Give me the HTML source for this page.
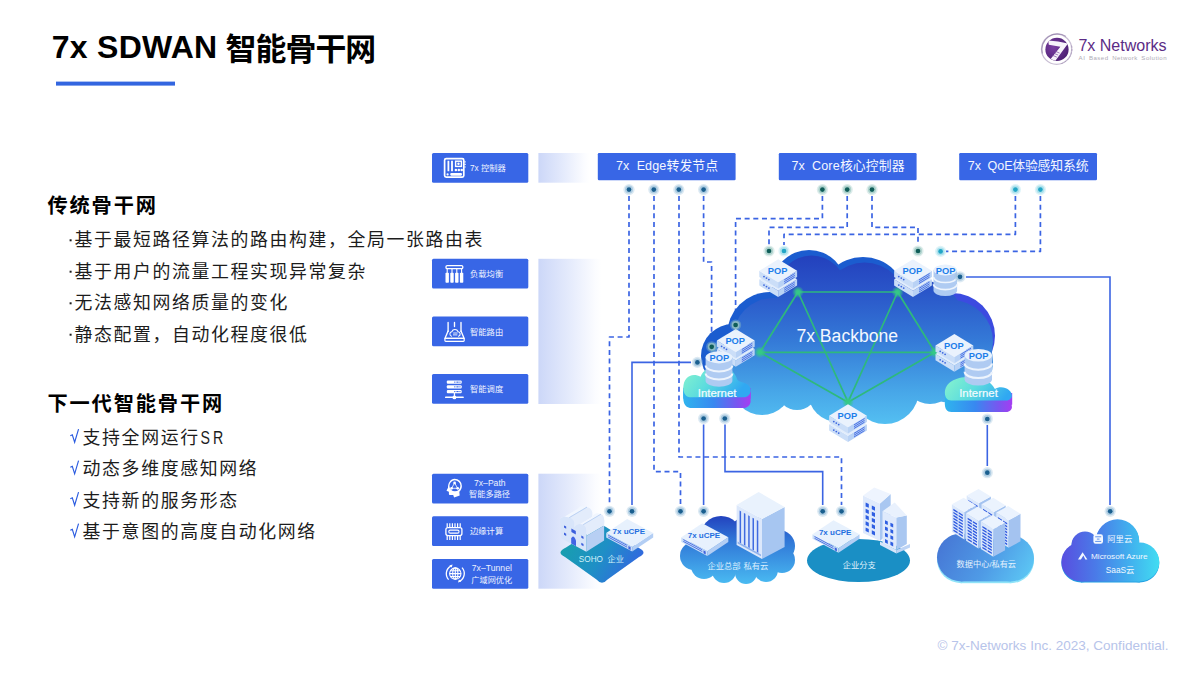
<!DOCTYPE html>
<html lang="zh-CN">
<head>
<meta charset="utf-8">
<title>7x SDWAN 智能骨干网</title>
<style>
html,body{margin:0;padding:0;background:#fff;}
body{width:1200px;height:675px;overflow:hidden;font-family:"Liberation Sans","Noto Sans CJK SC",sans-serif;}
#slide{position:relative;width:1200px;height:675px;overflow:hidden;background:#fff;}
#slide svg{position:absolute;left:0;top:0;display:block;}
svg text{font-family:"Liberation Sans","Noto Sans CJK SC",sans-serif;}
</style>
</head>
<body>
<div id="slide">
<svg width="1200" height="675" viewBox="0 0 1200 675">
<defs>
<linearGradient id="colg" x1="0" y1="0" x2="1" y2="0"><stop offset="0" stop-color="#ccd7f8"/><stop offset="0.5" stop-color="#e5ebfc"/><stop offset="0.9" stop-color="#fbfcff"/><stop offset="1" stop-color="#ffffff"/></linearGradient>
<linearGradient id="cloudg" gradientUnits="userSpaceOnUse" x1="0" y1="255" x2="0" y2="425"><stop offset="0" stop-color="#2340bd"/><stop offset="0.22" stop-color="#2a56c9"/><stop offset="0.5" stop-color="#3479d7"/><stop offset="0.8" stop-color="#47a6e8"/><stop offset="1" stop-color="#54c0f2"/></linearGradient>
<radialGradient id="gglow"><stop offset="0" stop-color="#35c987" stop-opacity="1"/><stop offset="0.35" stop-color="#35c987" stop-opacity="0.9"/><stop offset="1" stop-color="#35c987" stop-opacity="0"/></radialGradient>
<linearGradient id="inetTop" gradientUnits="userSpaceOnUse" x1="8" y1="12" x2="50" y2="46"><stop offset="0" stop-color="#80f0d0"/><stop offset="0.45" stop-color="#5cdcde"/><stop offset="1" stop-color="#30a8f2"/></linearGradient>
<linearGradient id="inetSide" gradientUnits="userSpaceOnUse" x1="0" y1="0" x2="67.5" y2="0"><stop offset="0" stop-color="#2fb4ee"/><stop offset="0.45" stop-color="#3888f0"/><stop offset="0.8" stop-color="#7a55f0"/><stop offset="1" stop-color="#a63cf2"/></linearGradient>
<linearGradient id="sohog" x1="0" y1="0.3" x2="1" y2="0.7"><stop offset="0" stop-color="#17a0ac"/><stop offset="0.5" stop-color="#1f8fc6"/><stop offset="1" stop-color="#3463e2"/></linearGradient>
<linearGradient id="hqg" gradientUnits="userSpaceOnUse" x1="0" y1="515" x2="0" y2="583"><stop offset="0" stop-color="#2240bd"/><stop offset="0.35" stop-color="#2f74d6"/><stop offset="1" stop-color="#49b9f1"/></linearGradient>
<linearGradient id="dcg" gradientUnits="userSpaceOnUse" x1="945" y1="538" x2="1025" y2="584"><stop offset="0" stop-color="#4779d6"/><stop offset="0.55" stop-color="#4f9be6"/><stop offset="1" stop-color="#5cc6f4"/></linearGradient>
<linearGradient id="saasg" gradientUnits="userSpaceOnUse" x1="1062" y1="0" x2="1159" y2="0"><stop offset="0" stop-color="#584fe0"/><stop offset="0.35" stop-color="#4a7be8"/><stop offset="0.7" stop-color="#41b0ee"/><stop offset="1" stop-color="#42dcf2"/></linearGradient>
<radialGradient id="logog" cx="0.35" cy="0.4" r="0.75"><stop offset="0" stop-color="#7b3fa3"/><stop offset="1" stop-color="#481d6e"/></radialGradient>
<clipPath id="logoclip"><circle cx="1057" cy="49.4" r="11.6"/></clipPath>
</defs>
<g fill="#000"><text x="51.80" y="58.40" font-size="32.00" font-weight="700" textLength="165.36" lengthAdjust="spacing" xml:space="preserve">7x SDWAN</text></g>
<g fill="#000"><text x="225.6" y="59.6" font-size="30.9" font-weight="700" letter-spacing="-0.95">智能骨干网</text></g>
<rect x="56" y="81.6" width="119" height="4" fill="#3366e0"/>
<text x="937.5" y="650" font-size="12.2" fill="#b7c4ea" textLength="231" lengthAdjust="spacingAndGlyphs">© 7x-Networks Inc. 2023, Confidential.</text>
<g fill="#000"><text x="47.4" y="213.2" font-size="20.2" font-weight="700" letter-spacing="1.9">传统骨干网</text></g>
<g fill="#000"><text x="47.4" y="411.2" font-size="20.2" font-weight="700" letter-spacing="1.9">下一代智能骨干网</text></g>
<rect x="69.6" y="239.3" width="2" height="2" fill="#1c1c1c"/>
<g fill="#1c1c1c"><text x="74.4" y="246.13" font-size="17.9" letter-spacing="1.62">基于最短路径算法的路由构建，全局一张路由表</text></g>
<rect x="69.6" y="270.7" width="2" height="2" fill="#1c1c1c"/>
<g fill="#1c1c1c"><text x="74.4" y="277.53" font-size="17.9" letter-spacing="1.62">基于用户的流量工程实现异常复杂</text></g>
<rect x="69.6" y="302.3" width="2" height="2" fill="#1c1c1c"/>
<g fill="#1c1c1c"><text x="74.4" y="309.13" font-size="17.9" letter-spacing="1.62">无法感知网络质量的变化</text></g>
<rect x="69.6" y="333.7" width="2" height="2" fill="#1c1c1c"/>
<g fill="#1c1c1c"><text x="74.4" y="340.53" font-size="17.9" letter-spacing="1.62">静态配置，自动化程度很低</text></g>
<path d="M70.3 435.7 l2.0 -0.9 l2.35 7.4 l3.9 -13.1" fill="none" stroke="#2a5be0" stroke-width="1.15" stroke-linejoin="miter"/>
<g fill="#1c1c1c"><text x="82.6" y="443.73" font-size="17.9" letter-spacing="1.62">支持全网运行</text></g>
<g fill="#1c1c1c"><text transform="translate(200.6 443.5) scale(0.78 1)" font-size="18.2">S</text><text transform="translate(213.1 443.5) scale(0.78 1)" font-size="18.2">R</text></g>
<path d="M70.3 467.3 l2.0 -0.9 l2.35 7.4 l3.9 -13.1" fill="none" stroke="#2a5be0" stroke-width="1.15" stroke-linejoin="miter"/>
<g fill="#1c1c1c"><text x="82.6" y="475.33" font-size="17.9" letter-spacing="1.62">动态多维度感知网络</text></g>
<path d="M70.3 498.7 l2.0 -0.9 l2.35 7.4 l3.9 -13.1" fill="none" stroke="#2a5be0" stroke-width="1.15" stroke-linejoin="miter"/>
<g fill="#1c1c1c"><text x="82.6" y="506.73" font-size="17.9" letter-spacing="1.62">支持新的服务形态</text></g>
<path d="M70.3 530.3 l2.0 -0.9 l2.35 7.4 l3.9 -13.1" fill="none" stroke="#2a5be0" stroke-width="1.15" stroke-linejoin="miter"/>
<g fill="#1c1c1c"><text x="82.6" y="538.33" font-size="17.9" letter-spacing="1.62">基于意图的高度自动化网络</text></g>
<rect x="538.4" y="153" width="51" height="29.7" fill="url(#colg)"/>
<rect x="538.4" y="258.8" width="63" height="145.2" fill="url(#colg)"/>
<rect x="538.4" y="473.7" width="63" height="115.0" fill="url(#colg)"/>
<rect x="432" y="153" width="96.3" height="29.8" rx="1.5" fill="#3866e6"/>
<g fill="#f0f4ff"><text x="470.00" y="171.20" font-size="8.18" textLength="10.92" lengthAdjust="spacing" xml:space="preserve">7x </text><text x="480.92" y="171.2" font-size="8.3">控制器</text></g>
<rect x="432" y="258.8" width="96.3" height="29.8" rx="1.5" fill="#3866e6"/>
<g fill="#f0f4ff"><text x="470" y="277" font-size="8.3">负载均衡</text></g>
<rect x="432" y="316.4" width="96.3" height="29.8" rx="1.5" fill="#3866e6"/>
<g fill="#f0f4ff"><text x="470" y="334.6" font-size="8.3">智能路由</text></g>
<rect x="432" y="374" width="96.3" height="29.8" rx="1.5" fill="#3866e6"/>
<g fill="#f0f4ff"><text x="470" y="392.2" font-size="8.3">智能调度</text></g>
<rect x="432" y="473.7" width="96.3" height="29.8" rx="1.5" fill="#3866e6"/>
<rect x="432" y="516.2" width="96.3" height="29.8" rx="1.5" fill="#3866e6"/>
<g fill="#f0f4ff"><text x="470" y="534.4" font-size="8.3">边缘计算</text></g>
<rect x="432" y="558.9" width="96.3" height="29.8" rx="1.5" fill="#3866e6"/>
<g fill="#eef2ff"><text x="474.02" y="485.90" font-size="8.60" textLength="31.56" lengthAdjust="spacing" xml:space="preserve">7x–Path</text></g>
<g fill="#eef2ff"><text x="469.1" y="497.3" font-size="8.2">智能多路径</text></g>
<g fill="#eef2ff"><text x="471.72" y="570.80" font-size="8.60" textLength="40.16" lengthAdjust="spacing" xml:space="preserve">7x–Tunnel</text></g>
<g fill="#eef2ff"><text x="471.3" y="582.9" font-size="8.2">广域网优化</text></g>
<rect x="597.8" y="153" width="137.8" height="27.2" rx="1.2" fill="#3866e6"/>
<g fill="#f4f6ff"><text x="616.00" y="170.00" font-size="12.54" letter-spacing="0.12" textLength="50.35" lengthAdjust="spacing" xml:space="preserve">7x  Edge</text><text x="666.47" y="170" font-size="12.8" letter-spacing="0.12">转发节点</text></g>
<rect x="778.8" y="153" width="137.8" height="27.2" rx="1.2" fill="#3866e6"/>
<g fill="#f4f6ff"><text x="791.40" y="170.00" font-size="12.54" letter-spacing="0.14" textLength="48.39" lengthAdjust="spacing" xml:space="preserve">7x  Core</text><text x="839.93" y="170" font-size="12.8" letter-spacing="0.14">核心控制器</text></g>
<rect x="959.2" y="153" width="137.8" height="27.2" rx="1.2" fill="#3866e6"/>
<g fill="#f4f6ff"><text x="967.80" y="170.00" font-size="12.54" letter-spacing="-0.12" textLength="44.60" lengthAdjust="spacing" xml:space="preserve">7x  QoE</text><text x="1012.28" y="170" font-size="12.8" letter-spacing="-0.12">体验感知系统</text></g>
<path d="M629 196 V337 H609.5 V505" fill="none" stroke="#3b64e3" stroke-width="1.7" stroke-dasharray="5 3.67" stroke-linejoin="round"/>
<path d="M654 196 V471.6 H680.5 V505" fill="none" stroke="#3b64e3" stroke-width="1.7" stroke-dasharray="5 3.67" stroke-linejoin="round"/>
<path d="M679 196 V457 H841.5 V505" fill="none" stroke="#3b64e3" stroke-width="1.7" stroke-dasharray="5 3.67" stroke-linejoin="round"/>
<path d="M703.6 196 V262 H711.6 V341" fill="none" stroke="#3b64e3" stroke-width="1.7" stroke-dasharray="5 3.67" stroke-linejoin="round"/>
<path d="M822.4 196 V218.6 H735.6 V319" fill="none" stroke="#3b64e3" stroke-width="1.7" stroke-dasharray="5 3.67" stroke-linejoin="round"/>
<path d="M847.2 196 V227.4 H769 V245" fill="none" stroke="#3b64e3" stroke-width="1.7" stroke-dasharray="5 3.67" stroke-linejoin="round"/>
<path d="M872 196 V227.4 H918 V245" fill="none" stroke="#3b64e3" stroke-width="1.7" stroke-dasharray="5 3.67" stroke-linejoin="round"/>
<path d="M1015.4 196 V234.4 H784 V245" fill="none" stroke="#3b64e3" stroke-width="1.7" stroke-dasharray="5 3.67" stroke-linejoin="round"/>
<path d="M1040.4 196 V251.4 H946" fill="none" stroke="#3b64e3" stroke-width="1.7" stroke-dasharray="5 3.67" stroke-linejoin="round"/>
<path d="M691 362.4 H632 V505" fill="none" stroke="#3b64e3" stroke-width="1.6"/>
<path d="M703.6 424.5 V505" fill="none" stroke="#3b64e3" stroke-width="1.6"/>
<path d="M725 424.5 V471.6 H822.7 V505" fill="none" stroke="#3b64e3" stroke-width="1.6"/>
<path d="M987.3 425 V466" fill="none" stroke="#3b64e3" stroke-width="1.6"/>
<path d="M966 277 H1110 V505" fill="none" stroke="#3b64e3" stroke-width="1.6"/>
<g fill="#1b5ccf"><circle cx="809" cy="287" r="37"/><circle cx="863" cy="300.5" r="43.5"/><circle cx="770" cy="335" r="43"/><circle cx="733" cy="356" r="32"/></g>
<g fill="#3c4be0"><circle cx="952" cy="336" r="43"/></g>
<g fill="url(#cloudg)"><circle cx="811.5" cy="290.5" r="35"/><circle cx="864.5" cy="304.5" r="42"/><circle cx="773.5" cy="338.5" r="40.5"/><circle cx="738" cy="361" r="29"/><circle cx="920" cy="325" r="45"/><circle cx="951.5" cy="341.5" r="41.5"/><circle cx="952" cy="362" r="41"/><circle cx="762" cy="385" r="30"/><circle cx="797" cy="390" r="20"/><circle cx="838" cy="392" r="30"/><circle cx="885" cy="390" r="34"/><circle cx="930" cy="378" r="26"/><polygon points="770,300 900,280 960,330 960,385 900,405 780,400 745,380 745,345"/></g>
<g stroke="#2eb97c" stroke-width="1.7" fill="none"><line x1="798" y1="292" x2="897.6" y2="292"/><line x1="798" y1="292" x2="760" y2="352.3"/><line x1="897.6" y1="292" x2="935" y2="352.3"/><line x1="760" y1="352.3" x2="935" y2="352.3"/><line x1="760" y1="352.3" x2="848" y2="402.2"/><line x1="935" y1="352.3" x2="848" y2="402.2"/><line x1="798" y1="292" x2="848" y2="402.2"/><line x1="897.6" y1="292" x2="848" y2="402.2"/></g>
<circle cx="798" cy="292" r="6" fill="url(#gglow)"/>
<circle cx="897.6" cy="292" r="6" fill="url(#gglow)"/>
<circle cx="760" cy="352.3" r="6" fill="url(#gglow)"/>
<circle cx="935" cy="352.3" r="6" fill="url(#gglow)"/>
<circle cx="848" cy="402.2" r="6" fill="url(#gglow)"/>
<text x="796.4" y="341.6" font-size="17.6" fill="#f4f8ff" textLength="101.76" lengthAdjust="spacing">7x Backbone</text>
<g transform="translate(683.3 353)"><g fill="url(#inetSide)"><path d="M0 35 C0 27 4.7 22 10.7 22 C13.2 22 15.2 22.6 17.2 23.8 C19.7 17 26.7 13 35.2 13 C44.7 13 51.7 18.5 54.2 27 C56.7 29.5 62.7 29.5 65.3 32.5 C68.7 36 68.2 42.5 61.7 44.3 H6.7 C2.7 44.3 0 40 0 35 Z" transform="translate(0 10.6)"/><rect x="0" y="35" width="67.3" height="10.6"/><path d="M0 35 C0 27 4.7 22 10.7 22 C13.2 22 15.2 22.6 17.2 23.8 C19.7 17 26.7 13 35.2 13 C44.7 13 51.7 18.5 54.2 27 C56.7 29.5 62.7 29.5 65.3 32.5 C68.7 36 68.2 42.5 61.7 44.3 H6.7 C2.7 44.3 0 40 0 35 Z" transform="translate(0 3.5)"/><path d="M0 35 C0 27 4.7 22 10.7 22 C13.2 22 15.2 22.6 17.2 23.8 C19.7 17 26.7 13 35.2 13 C44.7 13 51.7 18.5 54.2 27 C56.7 29.5 62.7 29.5 65.3 32.5 C68.7 36 68.2 42.5 61.7 44.3 H6.7 C2.7 44.3 0 40 0 35 Z" transform="translate(0 7.1)"/></g><path d="M0 35 C0 27 4.7 22 10.7 22 C13.2 22 15.2 22.6 17.2 23.8 C19.7 17 26.7 13 35.2 13 C44.7 13 51.7 18.5 54.2 27 C56.7 29.5 62.7 29.5 65.3 32.5 C68.7 36 68.2 42.5 61.7 44.3 H6.7 C2.7 44.3 0 40 0 35 Z" fill="url(#inetTop)"/><text x="33.8" y="43.5" font-size="11.4" fill="#f2fbff" text-anchor="middle" textLength="38.66" lengthAdjust="spacing" stroke="#f2fbff" stroke-width="0.2">Internet</text></g>
<g transform="translate(944.9 364)"><g fill="url(#inetSide)"><path d="M0 29 C0 19 10 13 24 13 C37 13 46 17 50 25 C53.5 22.5 60 22.5 64 26 C68.5 30 68 35 62.5 36.5 H6.5 C2 36.5 0 33 0 29 Z" transform="translate(0 11.6)"/><rect x="0" y="29" width="67.3" height="11.6"/><path d="M0 29 C0 19 10 13 24 13 C37 13 46 17 50 25 C53.5 22.5 60 22.5 64 26 C68.5 30 68 35 62.5 36.5 H6.5 C2 36.5 0 33 0 29 Z" transform="translate(0 3.9)"/><path d="M0 29 C0 19 10 13 24 13 C37 13 46 17 50 25 C53.5 22.5 60 22.5 64 26 C68.5 30 68 35 62.5 36.5 H6.5 C2 36.5 0 33 0 29 Z" transform="translate(0 7.7)"/></g><path d="M0 29 C0 19 10 13 24 13 C37 13 46 17 50 25 C53.5 22.5 60 22.5 64 26 C68.5 30 68 35 62.5 36.5 H6.5 C2 36.5 0 33 0 29 Z" fill="url(#inetTop)"/><text x="33.6" y="32.7" font-size="11.4" fill="#f2fbff" text-anchor="middle" textLength="38.66" lengthAdjust="spacing" stroke="#f2fbff" stroke-width="0.2">Internet</text></g>
<g transform="translate(778.2 259.3)"><polygon points="-18.9,20.0 0.0,31.5 0.0,37.8 -18.9,26.3" fill="#cbdef8"/><polygon points="0.0,31.5 18.9,20.0 18.9,26.3 0.0,37.8" fill="#b9d2f5"/><polygon points="0.0,8.5 18.9,20.0 0.0,31.5 -18.9,20.0" fill="#e2edfc"/><circle cx="-14.2" cy="25.8" r="0.9" fill="#3d66de"/><circle cx="-11.7" cy="27.3" r="0.9" fill="#3d66de"/><circle cx="-9.3" cy="28.8" r="0.9" fill="#3d66de"/><line x1="6.0" y1="29.1" x2="16.6" y2="22.7" stroke="#4068e2" stroke-width="0.9"/><line x1="6.0" y1="30.9" x2="16.6" y2="24.5" stroke="#4068e2" stroke-width="0.9"/><line x1="6.0" y1="32.7" x2="16.6" y2="26.3" stroke="#4068e2" stroke-width="0.9"/><polygon points="-18.9,11.5 0.0,23.0 0.0,29.3 -18.9,17.8" fill="#cbdef8"/><polygon points="0.0,23.0 18.9,11.5 18.9,17.8 0.0,29.3" fill="#b9d2f5"/><polygon points="0.0,0.0 18.9,11.5 0.0,23.0 -18.9,11.5" fill="#eaf2fd"/><circle cx="-14.2" cy="17.3" r="0.9" fill="#3d66de"/><circle cx="-11.7" cy="18.8" r="0.9" fill="#3d66de"/><circle cx="-9.3" cy="20.3" r="0.9" fill="#3d66de"/><line x1="6.0" y1="20.6" x2="16.6" y2="14.2" stroke="#4068e2" stroke-width="0.9"/><line x1="6.0" y1="22.4" x2="16.6" y2="16.0" stroke="#4068e2" stroke-width="0.9"/><line x1="6.0" y1="24.2" x2="16.6" y2="17.8" stroke="#4068e2" stroke-width="0.9"/><text x="-0.6" y="15.0" font-size="9.3" fill="#1d7eea" font-weight="700" text-anchor="middle" textLength="19.64" lengthAdjust="spacing">POP</text></g>
<g transform="translate(913 259.3)"><polygon points="-18.9,20.0 0.0,31.5 0.0,37.8 -18.9,26.3" fill="#cbdef8"/><polygon points="0.0,31.5 18.9,20.0 18.9,26.3 0.0,37.8" fill="#b9d2f5"/><polygon points="0.0,8.5 18.9,20.0 0.0,31.5 -18.9,20.0" fill="#e2edfc"/><circle cx="-14.2" cy="25.8" r="0.9" fill="#3d66de"/><circle cx="-11.7" cy="27.3" r="0.9" fill="#3d66de"/><circle cx="-9.3" cy="28.8" r="0.9" fill="#3d66de"/><line x1="6.0" y1="29.1" x2="16.6" y2="22.7" stroke="#4068e2" stroke-width="0.9"/><line x1="6.0" y1="30.9" x2="16.6" y2="24.5" stroke="#4068e2" stroke-width="0.9"/><line x1="6.0" y1="32.7" x2="16.6" y2="26.3" stroke="#4068e2" stroke-width="0.9"/><polygon points="-18.9,11.5 0.0,23.0 0.0,29.3 -18.9,17.8" fill="#cbdef8"/><polygon points="0.0,23.0 18.9,11.5 18.9,17.8 0.0,29.3" fill="#b9d2f5"/><polygon points="0.0,0.0 18.9,11.5 0.0,23.0 -18.9,11.5" fill="#eaf2fd"/><circle cx="-14.2" cy="17.3" r="0.9" fill="#3d66de"/><circle cx="-11.7" cy="18.8" r="0.9" fill="#3d66de"/><circle cx="-9.3" cy="20.3" r="0.9" fill="#3d66de"/><line x1="6.0" y1="20.6" x2="16.6" y2="14.2" stroke="#4068e2" stroke-width="0.9"/><line x1="6.0" y1="22.4" x2="16.6" y2="16.0" stroke="#4068e2" stroke-width="0.9"/><line x1="6.0" y1="24.2" x2="16.6" y2="17.8" stroke="#4068e2" stroke-width="0.9"/><text x="-0.6" y="15.0" font-size="9.3" fill="#1d7eea" font-weight="700" text-anchor="middle" textLength="19.64" lengthAdjust="spacing">POP</text></g>
<g transform="translate(945.3 270)"><path d="M-11.8 0 V20.6 A11.8 5.4 0 0 0 11.8 20.6 V0 Z" fill="#afcbf2"/><path d="M-11.8 7.1 A11.8 5.4 0 0 0 11.8 7.1" fill="none" stroke="#edf4fd" stroke-width="1.7"/><path d="M-11.8 14.2 A11.8 5.4 0 0 0 11.8 14.2" fill="none" stroke="#edf4fd" stroke-width="1.7"/><ellipse cx="0" cy="0" rx="11.8" ry="5.4" fill="#e7f1fd"/><text x="0.3" y="3.8" font-size="9.3" fill="#1d7eea" font-weight="700" text-anchor="middle" textLength="19.64" lengthAdjust="spacing">POP</text></g>
<g transform="translate(735.8 329)"><polygon points="-18.9,20.0 0.0,31.5 0.0,37.8 -18.9,26.3" fill="#cbdef8"/><polygon points="0.0,31.5 18.9,20.0 18.9,26.3 0.0,37.8" fill="#b9d2f5"/><polygon points="0.0,8.5 18.9,20.0 0.0,31.5 -18.9,20.0" fill="#e2edfc"/><circle cx="-14.2" cy="25.8" r="0.9" fill="#3d66de"/><circle cx="-11.7" cy="27.3" r="0.9" fill="#3d66de"/><circle cx="-9.3" cy="28.8" r="0.9" fill="#3d66de"/><line x1="6.0" y1="29.1" x2="16.6" y2="22.7" stroke="#4068e2" stroke-width="0.9"/><line x1="6.0" y1="30.9" x2="16.6" y2="24.5" stroke="#4068e2" stroke-width="0.9"/><line x1="6.0" y1="32.7" x2="16.6" y2="26.3" stroke="#4068e2" stroke-width="0.9"/><polygon points="-18.9,11.5 0.0,23.0 0.0,29.3 -18.9,17.8" fill="#cbdef8"/><polygon points="0.0,23.0 18.9,11.5 18.9,17.8 0.0,29.3" fill="#b9d2f5"/><polygon points="0.0,0.0 18.9,11.5 0.0,23.0 -18.9,11.5" fill="#eaf2fd"/><circle cx="-14.2" cy="17.3" r="0.9" fill="#3d66de"/><circle cx="-11.7" cy="18.8" r="0.9" fill="#3d66de"/><circle cx="-9.3" cy="20.3" r="0.9" fill="#3d66de"/><line x1="6.0" y1="20.6" x2="16.6" y2="14.2" stroke="#4068e2" stroke-width="0.9"/><line x1="6.0" y1="22.4" x2="16.6" y2="16.0" stroke="#4068e2" stroke-width="0.9"/><line x1="6.0" y1="24.2" x2="16.6" y2="17.8" stroke="#4068e2" stroke-width="0.9"/><text x="-0.6" y="15.0" font-size="9.3" fill="#1d7eea" font-weight="700" text-anchor="middle" textLength="19.64" lengthAdjust="spacing">POP</text></g>
<g transform="translate(719 357.3)"><path d="M-13.4 0 V23.4 A13.4 6.1 0 0 0 13.4 23.4 V0 Z" fill="#afcbf2"/><path d="M-13.4 8.1 A13.4 6.1 0 0 0 13.4 8.1" fill="none" stroke="#edf4fd" stroke-width="1.9"/><path d="M-13.4 16.1 A13.4 6.1 0 0 0 13.4 16.1" fill="none" stroke="#edf4fd" stroke-width="1.9"/><ellipse cx="0" cy="0" rx="13.4" ry="6.1" fill="#e7f1fd"/><text x="0.3" y="3.8" font-size="9.3" fill="#1d7eea" font-weight="700" text-anchor="middle" textLength="19.64" lengthAdjust="spacing">POP</text></g>
<g transform="translate(954.4 334)"><polygon points="-18.9,20.0 0.0,31.5 0.0,37.8 -18.9,26.3" fill="#cbdef8"/><polygon points="0.0,31.5 18.9,20.0 18.9,26.3 0.0,37.8" fill="#b9d2f5"/><polygon points="0.0,8.5 18.9,20.0 0.0,31.5 -18.9,20.0" fill="#e2edfc"/><circle cx="-14.2" cy="25.8" r="0.9" fill="#3d66de"/><circle cx="-11.7" cy="27.3" r="0.9" fill="#3d66de"/><circle cx="-9.3" cy="28.8" r="0.9" fill="#3d66de"/><line x1="6.0" y1="29.1" x2="16.6" y2="22.7" stroke="#4068e2" stroke-width="0.9"/><line x1="6.0" y1="30.9" x2="16.6" y2="24.5" stroke="#4068e2" stroke-width="0.9"/><line x1="6.0" y1="32.7" x2="16.6" y2="26.3" stroke="#4068e2" stroke-width="0.9"/><polygon points="-18.9,11.5 0.0,23.0 0.0,29.3 -18.9,17.8" fill="#cbdef8"/><polygon points="0.0,23.0 18.9,11.5 18.9,17.8 0.0,29.3" fill="#b9d2f5"/><polygon points="0.0,0.0 18.9,11.5 0.0,23.0 -18.9,11.5" fill="#eaf2fd"/><circle cx="-14.2" cy="17.3" r="0.9" fill="#3d66de"/><circle cx="-11.7" cy="18.8" r="0.9" fill="#3d66de"/><circle cx="-9.3" cy="20.3" r="0.9" fill="#3d66de"/><line x1="6.0" y1="20.6" x2="16.6" y2="14.2" stroke="#4068e2" stroke-width="0.9"/><line x1="6.0" y1="22.4" x2="16.6" y2="16.0" stroke="#4068e2" stroke-width="0.9"/><line x1="6.0" y1="24.2" x2="16.6" y2="17.8" stroke="#4068e2" stroke-width="0.9"/><text x="-0.6" y="15.0" font-size="9.3" fill="#1d7eea" font-weight="700" text-anchor="middle" textLength="19.64" lengthAdjust="spacing">POP</text></g>
<g transform="translate(978.3 355.3)"><path d="M-13.7 0 V23.9 A13.7 6.3 0 0 0 13.7 23.9 V0 Z" fill="#afcbf2"/><path d="M-13.7 8.2 A13.7 6.3 0 0 0 13.7 8.2" fill="none" stroke="#edf4fd" stroke-width="2.0"/><path d="M-13.7 16.5 A13.7 6.3 0 0 0 13.7 16.5" fill="none" stroke="#edf4fd" stroke-width="2.0"/><ellipse cx="0" cy="0" rx="13.7" ry="6.3" fill="#e7f1fd"/><text x="0.3" y="3.8" font-size="9.3" fill="#1d7eea" font-weight="700" text-anchor="middle" textLength="19.64" lengthAdjust="spacing">POP</text></g>
<g transform="translate(848 404.3)"><polygon points="-18.9,20.0 0.0,31.5 0.0,37.8 -18.9,26.3" fill="#cbdef8"/><polygon points="0.0,31.5 18.9,20.0 18.9,26.3 0.0,37.8" fill="#b9d2f5"/><polygon points="0.0,8.5 18.9,20.0 0.0,31.5 -18.9,20.0" fill="#e2edfc"/><circle cx="-14.2" cy="25.8" r="0.9" fill="#3d66de"/><circle cx="-11.7" cy="27.3" r="0.9" fill="#3d66de"/><circle cx="-9.3" cy="28.8" r="0.9" fill="#3d66de"/><line x1="6.0" y1="29.1" x2="16.6" y2="22.7" stroke="#4068e2" stroke-width="0.9"/><line x1="6.0" y1="30.9" x2="16.6" y2="24.5" stroke="#4068e2" stroke-width="0.9"/><line x1="6.0" y1="32.7" x2="16.6" y2="26.3" stroke="#4068e2" stroke-width="0.9"/><polygon points="-18.9,11.5 0.0,23.0 0.0,29.3 -18.9,17.8" fill="#cbdef8"/><polygon points="0.0,23.0 18.9,11.5 18.9,17.8 0.0,29.3" fill="#b9d2f5"/><polygon points="0.0,0.0 18.9,11.5 0.0,23.0 -18.9,11.5" fill="#eaf2fd"/><circle cx="-14.2" cy="17.3" r="0.9" fill="#3d66de"/><circle cx="-11.7" cy="18.8" r="0.9" fill="#3d66de"/><circle cx="-9.3" cy="20.3" r="0.9" fill="#3d66de"/><line x1="6.0" y1="20.6" x2="16.6" y2="14.2" stroke="#4068e2" stroke-width="0.9"/><line x1="6.0" y1="22.4" x2="16.6" y2="16.0" stroke="#4068e2" stroke-width="0.9"/><line x1="6.0" y1="24.2" x2="16.6" y2="17.8" stroke="#4068e2" stroke-width="0.9"/><text x="-0.6" y="15.0" font-size="9.3" fill="#1d7eea" font-weight="700" text-anchor="middle" textLength="19.64" lengthAdjust="spacing">POP</text></g>
<circle cx="629" cy="189.6" r="5.6" fill="#9fc3dc" opacity="0.35"/><circle cx="629" cy="189.6" r="4" fill="#9fc3dc" opacity="0.75"/><circle cx="629" cy="189.6" r="2.35" fill="#1a5f8f"/>
<circle cx="653.8" cy="189.6" r="5.6" fill="#9fc3dc" opacity="0.35"/><circle cx="653.8" cy="189.6" r="4" fill="#9fc3dc" opacity="0.75"/><circle cx="653.8" cy="189.6" r="2.35" fill="#1a5f8f"/>
<circle cx="678.8" cy="189.6" r="5.6" fill="#9fc3dc" opacity="0.35"/><circle cx="678.8" cy="189.6" r="4" fill="#9fc3dc" opacity="0.75"/><circle cx="678.8" cy="189.6" r="2.35" fill="#1a5f8f"/>
<circle cx="703.6" cy="189.6" r="5.6" fill="#9fc3dc" opacity="0.35"/><circle cx="703.6" cy="189.6" r="4" fill="#9fc3dc" opacity="0.75"/><circle cx="703.6" cy="189.6" r="2.35" fill="#1a5f8f"/>
<circle cx="822.4" cy="189.6" r="5.6" fill="#9cc8c2" opacity="0.35"/><circle cx="822.4" cy="189.6" r="4" fill="#9cc8c2" opacity="0.75"/><circle cx="822.4" cy="189.6" r="2.35" fill="#0f5d58"/>
<circle cx="847.2" cy="189.6" r="5.6" fill="#9cc8c2" opacity="0.35"/><circle cx="847.2" cy="189.6" r="4" fill="#9cc8c2" opacity="0.75"/><circle cx="847.2" cy="189.6" r="2.35" fill="#0f5d58"/>
<circle cx="872" cy="189.6" r="5.6" fill="#9cc8c2" opacity="0.35"/><circle cx="872" cy="189.6" r="4" fill="#9cc8c2" opacity="0.75"/><circle cx="872" cy="189.6" r="2.35" fill="#0f5d58"/>
<circle cx="1015.4" cy="189.6" r="5.6" fill="#9fdcea" opacity="0.35"/><circle cx="1015.4" cy="189.6" r="4" fill="#9fdcea" opacity="0.75"/><circle cx="1015.4" cy="189.6" r="2.35" fill="#22a6c6"/>
<circle cx="1040.4" cy="189.6" r="5.6" fill="#9fdcea" opacity="0.35"/><circle cx="1040.4" cy="189.6" r="4" fill="#9fdcea" opacity="0.75"/><circle cx="1040.4" cy="189.6" r="2.35" fill="#22a6c6"/>
<circle cx="769" cy="251" r="5.6" fill="#9cc8c2" opacity="0.35"/><circle cx="769" cy="251" r="4" fill="#9cc8c2" opacity="0.75"/><circle cx="769" cy="251" r="2.35" fill="#0f5d58"/>
<circle cx="784" cy="251" r="5.6" fill="#9fdcea" opacity="0.35"/><circle cx="784" cy="251" r="4" fill="#9fdcea" opacity="0.75"/><circle cx="784" cy="251" r="2.35" fill="#22a6c6"/>
<circle cx="918" cy="251" r="5.6" fill="#9cc8c2" opacity="0.35"/><circle cx="918" cy="251" r="4" fill="#9cc8c2" opacity="0.75"/><circle cx="918" cy="251" r="2.35" fill="#0f5d58"/>
<circle cx="940.6" cy="251.4" r="5.6" fill="#9fdcea" opacity="0.35"/><circle cx="940.6" cy="251.4" r="4" fill="#9fdcea" opacity="0.75"/><circle cx="940.6" cy="251.4" r="2.35" fill="#22a6c6"/>
<circle cx="735.6" cy="325" r="5.6" fill="#9cc8c2" opacity="0.35"/><circle cx="735.6" cy="325" r="4" fill="#9cc8c2" opacity="0.75"/><circle cx="735.6" cy="325" r="2.35" fill="#0f5d58"/>
<circle cx="711.7" cy="346.8" r="5.6" fill="#9cc8c2" opacity="0.35"/><circle cx="711.7" cy="346.8" r="4" fill="#9cc8c2" opacity="0.75"/><circle cx="711.7" cy="346.8" r="2.35" fill="#0f5d58"/>
<circle cx="697.4" cy="362.4" r="5.6" fill="#9fc3dc" opacity="0.35"/><circle cx="697.4" cy="362.4" r="4" fill="#9fc3dc" opacity="0.75"/><circle cx="697.4" cy="362.4" r="2.35" fill="#1a5f8f"/>
<circle cx="960" cy="276.8" r="5.6" fill="#9fc3dc" opacity="0.35"/><circle cx="960" cy="276.8" r="4" fill="#9fc3dc" opacity="0.75"/><circle cx="960" cy="276.8" r="2.35" fill="#1a5f8f"/>
<circle cx="703.6" cy="418.5" r="5.6" fill="#9fc3dc" opacity="0.35"/><circle cx="703.6" cy="418.5" r="4" fill="#9fc3dc" opacity="0.75"/><circle cx="703.6" cy="418.5" r="2.35" fill="#1a5f8f"/>
<circle cx="724.8" cy="418.5" r="5.6" fill="#9fc3dc" opacity="0.35"/><circle cx="724.8" cy="418.5" r="4" fill="#9fc3dc" opacity="0.75"/><circle cx="724.8" cy="418.5" r="2.35" fill="#1a5f8f"/>
<circle cx="987.3" cy="419" r="5.6" fill="#9fc3dc" opacity="0.35"/><circle cx="987.3" cy="419" r="4" fill="#9fc3dc" opacity="0.75"/><circle cx="987.3" cy="419" r="2.35" fill="#1a5f8f"/>
<circle cx="987.3" cy="472.7" r="5.6" fill="#9fc3dc" opacity="0.35"/><circle cx="987.3" cy="472.7" r="4" fill="#9fc3dc" opacity="0.75"/><circle cx="987.3" cy="472.7" r="2.35" fill="#1a5f8f"/>
<circle cx="609.5" cy="511.3" r="5.6" fill="#9fc3dc" opacity="0.35"/><circle cx="609.5" cy="511.3" r="4" fill="#9fc3dc" opacity="0.75"/><circle cx="609.5" cy="511.3" r="2.35" fill="#1a5f8f"/>
<circle cx="632" cy="511.3" r="5.6" fill="#9fc3dc" opacity="0.35"/><circle cx="632" cy="511.3" r="4" fill="#9fc3dc" opacity="0.75"/><circle cx="632" cy="511.3" r="2.35" fill="#1a5f8f"/>
<circle cx="680.5" cy="511.3" r="5.6" fill="#9fc3dc" opacity="0.35"/><circle cx="680.5" cy="511.3" r="4" fill="#9fc3dc" opacity="0.75"/><circle cx="680.5" cy="511.3" r="2.35" fill="#1a5f8f"/>
<circle cx="703.6" cy="511.3" r="5.6" fill="#9fc3dc" opacity="0.35"/><circle cx="703.6" cy="511.3" r="4" fill="#9fc3dc" opacity="0.75"/><circle cx="703.6" cy="511.3" r="2.35" fill="#1a5f8f"/>
<circle cx="822.7" cy="511.3" r="5.6" fill="#9fc3dc" opacity="0.35"/><circle cx="822.7" cy="511.3" r="4" fill="#9fc3dc" opacity="0.75"/><circle cx="822.7" cy="511.3" r="2.35" fill="#1a5f8f"/>
<circle cx="841.5" cy="511.3" r="5.6" fill="#9fc3dc" opacity="0.35"/><circle cx="841.5" cy="511.3" r="4" fill="#9fc3dc" opacity="0.75"/><circle cx="841.5" cy="511.3" r="2.35" fill="#1a5f8f"/>
<circle cx="1110.2" cy="511.3" r="5.6" fill="#9fc3dc" opacity="0.35"/><circle cx="1110.2" cy="511.3" r="4" fill="#9fc3dc" opacity="0.75"/><circle cx="1110.2" cy="511.3" r="2.35" fill="#1a5f8f"/>
<path d="M566 547.5 L598 527 Q602 524.5 606 527 L639 548 Q648 552.5 639 557 L607.5 579.5 Q602 586 596.5 579.5 L565 557 Q555.5 552.5 566 547.5 Z" fill="url(#sohog)"/>
<path d="M560.1 519.3 Q562.6 515.4 568.6 517.6 L586.4 507.0 Q580.4 504.8 577.9 508.7 Z" fill="#f1f6fe"/><path d="M568.6 517.6 Q575.8 518.6 574.3 527.5 L592.1 516.9 Q593.6 508.0 586.4 507.0 Z" fill="#e3ecfb"/><path d="M574.3 527.5 Q576.8 522.4 582.6 524.6 L600.4 514.0 Q594.6 511.8 592.1 516.9 Z" fill="#f1f6fe"/><path d="M582.6 524.6 Q587.8 525.6 586.3 536.0 L604.1 525.4 Q605.6 515.0 600.4 514.0 Z" fill="#e3ecfb"/><line x1="569.2" y1="517.7" x2="587.0" y2="507.1" stroke="#a9c5ef" stroke-width="0.7"/><line x1="583.2" y1="524.7" x2="601.0" y2="514.1" stroke="#a9c5ef" stroke-width="0.7"/><polygon points="586.3,536.0 604.1,525.4 604.1,540.4 586.3,551.8" fill="#b7cff3"/><path d="M560.1 519.3 Q562.6 515.4 568.6 517.6 Q575.8 518.6 574.3 527.5 Q576.8 522.4 582.6 524.6 Q587.8 525.6 586.3 536.0 V551.8 L561.5 538.4 Z" fill="#d8e5fa"/><polygon points="564.0,525.4 566.2,526.6 566.2,528.8 564.0,527.6" fill="#3b5fdd"/><polygon points="564.0,532.6 566.2,533.8 566.2,536.0 564.0,534.8" fill="#3b5fdd"/><polygon points="581.3,535.6 583.5,536.8 583.5,539.0 581.3,537.8" fill="#3b5fdd"/><polygon points="581.3,542.8 583.5,544.0 583.5,546.2 581.3,545.0" fill="#3b5fdd"/><polygon points="571.4,528.6 575.8,531.0 575.8,534.4 571.4,532.0" fill="#3b5fdd"/><path d="M571.2 543.6 V538.2 Q573.4 533.8 576 540.4 V546.3 Z" fill="#4064e4"/>
<g transform="translate(627.2 518.9)"><polygon points="-21.0,14.0 5.0,28.0 5.0,32.6 -21.0,18.6" fill="#cadef8"/><polygon points="5.0,28.0 26.0,14.0 26.0,18.6 5.0,32.6" fill="#b3cef4"/><polygon points="0.0,0.0 26.0,14.0 5.0,28.0 -21.0,14.0" fill="#e7f1fd"/><line x1="-19.0" y1="16.3" x2="0.0" y2="26.5" stroke="#3b63df" stroke-width="0.85"/><line x1="-19.0" y1="18.1" x2="0.0" y2="28.3" stroke="#3b63df" stroke-width="0.85"/><polygon points="1.2,27.0 3.4,28.2 3.4,31.2 1.2,30.0" fill="#3f63dc"/><text x="-14.6" y="14.7" font-size="8" fill="#1f6fe0" font-weight="700" textLength="32.46" lengthAdjust="spacing">7x uCPE</text></g>
<g fill="#d2f1f8"><text x="578.80" y="562.00" font-size="8.20" textLength="28.70" lengthAdjust="spacing" xml:space="preserve">SOHO  </text><text x="607.5" y="562" font-size="8.2">企业</text></g>
<g fill="url(#hqg)"><circle cx="721" cy="537" r="21"/><circle cx="750" cy="540" r="24"/><circle cx="779" cy="546" r="16"/><circle cx="694" cy="556" r="14"/><circle cx="704" cy="566" r="13"/><circle cx="724" cy="571" r="12"/><circle cx="746" cy="573" r="11"/><circle cx="766" cy="570" r="12"/><circle cx="782" cy="560" r="13"/><rect x="694" y="540" width="90" height="30"/></g>
<g transform="translate(702.3 523.3)"><polygon points="-21.0,14.0 5.0,28.0 5.0,32.6 -21.0,18.6" fill="#cadef8"/><polygon points="5.0,28.0 26.0,14.0 26.0,18.6 5.0,32.6" fill="#b3cef4"/><polygon points="0.0,0.0 26.0,14.0 5.0,28.0 -21.0,14.0" fill="#e7f1fd"/><line x1="-19.0" y1="16.3" x2="0.0" y2="26.5" stroke="#3b63df" stroke-width="0.85"/><line x1="-19.0" y1="18.1" x2="0.0" y2="28.3" stroke="#3b63df" stroke-width="0.85"/><polygon points="1.2,27.0 3.4,28.2 3.4,31.2 1.2,30.0" fill="#3f63dc"/><text x="-14.6" y="14.7" font-size="8" fill="#1f6fe0" font-weight="700" textLength="32.46" lengthAdjust="spacing">7x uCPE</text></g>
<polygon points="736.6,505.0 762.0,519.0 762.0,559.0 736.6,545.0" fill="#dce8fb"/><polygon points="762.0,519.0 784.6,507.0 784.6,547.0 762.0,559.0" fill="#a7c6f1"/><polygon points="758.6,492.0 784.6,507.0 762.0,519.0 736.6,505.0" fill="#e9f2fd"/><polygon points="739.6,510.6 741.1,511.4 741.1,543.4 739.6,542.6" fill="#3f6ae0"/><polygon points="743.9,513.0 745.4,513.8 745.4,545.8 743.9,545.0" fill="#3f6ae0"/><polygon points="748.2,515.3 749.7,516.2 749.7,548.1 748.2,547.3" fill="#3f6ae0"/><polygon points="752.5,517.7 754.0,518.5 754.0,550.5 752.5,549.7" fill="#3f6ae0"/><polygon points="756.8,520.1 758.3,520.9 758.3,552.9 756.8,552.1" fill="#3f6ae0"/><polygon points="737.6,541.6 761.0,554.5 761.0,556.3 737.6,543.4" fill="#8fb2ec"/>
<g fill="#dcefff"><text x="707.4" y="569.1" font-size="8.3">企业总部</text></g>
<g fill="#dcefff"><text x="743.4" y="569.1" font-size="8.3">私有云</text></g>
<ellipse cx="858.5" cy="560.5" rx="51.5" ry="21.6" fill="#1a8fc5"/>
<g transform="translate(833.5 520.2)"><polygon points="-21.0,14.0 5.0,28.0 5.0,32.6 -21.0,18.6" fill="#cadef8"/><polygon points="5.0,28.0 26.0,14.0 26.0,18.6 5.0,32.6" fill="#b3cef4"/><polygon points="0.0,0.0 26.0,14.0 5.0,28.0 -21.0,14.0" fill="#e7f1fd"/><line x1="-19.0" y1="16.3" x2="0.0" y2="26.5" stroke="#3b63df" stroke-width="0.85"/><line x1="-19.0" y1="18.1" x2="0.0" y2="28.3" stroke="#3b63df" stroke-width="0.85"/><polygon points="1.2,27.0 3.4,28.2 3.4,31.2 1.2,30.0" fill="#3f63dc"/><text x="-14.6" y="14.7" font-size="8" fill="#1f6fe0" font-weight="700" textLength="32.46" lengthAdjust="spacing">7x uCPE</text></g>
<polygon points="863.0,495.6 880.0,503.4 880.0,541.0 863.0,533.0" fill="#dfeafc"/><polygon points="880.0,503.4 890.7,494.0 890.7,531.0 880.0,541.0" fill="#a9c7f1"/><polygon points="874.2,487.4 890.7,494.0 880.0,503.4 863.0,495.6" fill="#eef4fe"/><polygon points="865.6,502.6 868.8,504.1 868.8,507.8 865.6,506.4" fill="#2f5fe2"/><polygon points="871.8,505.5 875.0,506.9 875.0,510.7 871.8,509.2" fill="#2f5fe2"/><polygon points="865.6,508.8 868.8,510.2 868.8,514.0 865.6,512.5" fill="#2f5fe2"/><polygon points="871.8,511.7 875.0,513.1 875.0,516.9 871.8,515.4" fill="#2f5fe2"/><polygon points="865.6,515.0 868.8,516.5 868.8,520.2 865.6,518.8" fill="#2f5fe2"/><polygon points="871.8,517.9 875.0,519.3 875.0,523.1 871.8,521.6" fill="#2f5fe2"/><polygon points="865.6,521.2 868.8,522.7 868.8,526.4 865.6,525.0" fill="#2f5fe2"/><polygon points="871.8,524.1 875.0,525.5 875.0,529.3 871.8,527.8" fill="#2f5fe2"/><polygon points="865.6,527.4 868.8,528.9 868.8,532.6 865.6,531.1" fill="#2f5fe2"/><polygon points="871.8,530.2 875.0,531.7 875.0,535.5 871.8,534.0" fill="#2f5fe2"/><polygon points="882.5,511.2 896.4,517.4 896.4,550.0 882.5,543.5" fill="#dfeafc"/><polygon points="896.4,517.4 906.8,515.5 906.8,544.0 896.4,550.0" fill="#a9c7f1"/><polygon points="882.5,511.2 894.7,502.5 906.8,515.5 896.4,517.4" fill="#e9f1fd"/><polygon points="885.0,520.2 887.8,521.5 887.8,525.0 885.0,523.8" fill="#2f5fe2"/><polygon points="890.4,522.7 893.2,523.9 893.2,527.5 890.4,526.2" fill="#2f5fe2"/><polygon points="885.0,526.5 887.8,527.8 887.8,531.3 885.0,530.0" fill="#2f5fe2"/><polygon points="890.4,529.0 893.2,530.2 893.2,533.8 890.4,532.5" fill="#2f5fe2"/><polygon points="885.0,532.8 887.8,534.1 887.8,537.6 885.0,536.4" fill="#2f5fe2"/><polygon points="890.4,535.3 893.2,536.5 893.2,540.1 890.4,538.8" fill="#2f5fe2"/><polygon points="885.0,539.1 887.8,540.4 887.8,543.9 885.0,542.6" fill="#2f5fe2"/><polygon points="890.4,541.6 893.2,542.8 893.2,546.4 890.4,545.1" fill="#2f5fe2"/><polygon points="896.4,550.0 910.0,544.0 910.0,547.4 896.4,553.6" fill="#bcd3f5"/><polygon points="880.0,541.5 896.4,550.0 896.4,553.6 880.0,545.0" fill="#d7e5fa"/>
<g fill="#e0f2fc"><text x="842.7" y="567.5" font-size="8.3">企业分支</text></g>
<g fill="#8fe3f8" transform="translate(0 1.2)"><circle cx="961" cy="558" r="24"/><circle cx="1011" cy="559" r="23"/><circle cx="992" cy="546" r="14"/><rect x="961" y="541" width="50" height="41"/></g>
<g fill="url(#dcg)" transform="translate(0 -0.6)"><circle cx="961" cy="558" r="24"/><circle cx="1011" cy="559" r="23"/><circle cx="992" cy="546" r="14"/><rect x="961" y="541" width="50" height="41"/></g>
<g transform="translate(978.5 488.9)"><polygon points="-11.8,6.5 0.6,14.2 0.6,41.7 -11.8,34.0" fill="#dbe8fb"/><polygon points="0.6,14.2 12.4,7.7 12.4,35.2 0.6,41.7" fill="#a4c3f0"/><polygon points="0.0,0.0 12.4,7.7 0.6,14.2 -11.8,6.5" fill="#ebf3fe"/><polygon points="-10.3,11.0 -6.1,13.6 -6.1,15.2 -10.3,12.6" fill="#2d58e0"/><polygon points="-5.1,14.3 -0.9,16.9 -0.9,18.4 -5.1,15.8" fill="#2d58e0"/><polygon points="-10.3,14.0 -6.1,16.6 -6.1,18.1 -10.3,15.5" fill="#2d58e0"/><polygon points="-5.1,17.2 -0.9,19.8 -0.9,21.4 -5.1,18.8" fill="#2d58e0"/><polygon points="-10.3,16.9 -6.1,19.5 -6.1,21.1 -10.3,18.5" fill="#2d58e0"/><polygon points="-5.1,20.2 -0.9,22.8 -0.9,24.3 -5.1,21.7" fill="#2d58e0"/><polygon points="-10.3,19.9 -6.1,22.5 -6.1,24.0 -10.3,21.4" fill="#2d58e0"/><polygon points="-5.1,23.1 -0.9,25.7 -0.9,27.3 -5.1,24.7" fill="#2d58e0"/><polygon points="-10.3,22.8 -6.1,25.4 -6.1,27.0 -10.3,24.4" fill="#2d58e0"/><polygon points="-5.1,26.1 -0.9,28.7 -0.9,30.2 -5.1,27.6" fill="#2d58e0"/><polygon points="-10.3,25.8 -6.1,28.4 -6.1,29.9 -10.3,27.3" fill="#2d58e0"/><polygon points="-5.1,29.0 -0.9,31.6 -0.9,33.2 -5.1,30.6" fill="#2d58e0"/><polygon points="-10.3,28.7 -6.1,31.3 -6.1,32.9 -10.3,30.3" fill="#2d58e0"/><polygon points="-5.1,32.0 -0.9,34.6 -0.9,36.1 -5.1,33.5" fill="#2d58e0"/><polygon points="-10.3,31.7 -6.1,34.3 -6.1,35.8 -10.3,33.2" fill="#2d58e0"/><polygon points="-5.1,34.9 -0.9,37.5 -0.9,39.1 -5.1,36.5" fill="#2d58e0"/></g>
<g transform="translate(993.3 497.8)"><polygon points="-11.8,6.5 0.6,14.2 0.6,41.7 -11.8,34.0" fill="#dbe8fb"/><polygon points="0.6,14.2 12.4,7.7 12.4,35.2 0.6,41.7" fill="#a4c3f0"/><polygon points="0.0,0.0 12.4,7.7 0.6,14.2 -11.8,6.5" fill="#ebf3fe"/><polygon points="-10.3,11.0 -6.1,13.6 -6.1,15.2 -10.3,12.6" fill="#2d58e0"/><polygon points="-5.1,14.3 -0.9,16.9 -0.9,18.4 -5.1,15.8" fill="#2d58e0"/><polygon points="-10.3,14.0 -6.1,16.6 -6.1,18.1 -10.3,15.5" fill="#2d58e0"/><polygon points="-5.1,17.2 -0.9,19.8 -0.9,21.4 -5.1,18.8" fill="#2d58e0"/><polygon points="-10.3,16.9 -6.1,19.5 -6.1,21.1 -10.3,18.5" fill="#2d58e0"/><polygon points="-5.1,20.2 -0.9,22.8 -0.9,24.3 -5.1,21.7" fill="#2d58e0"/><polygon points="-10.3,19.9 -6.1,22.5 -6.1,24.0 -10.3,21.4" fill="#2d58e0"/><polygon points="-5.1,23.1 -0.9,25.7 -0.9,27.3 -5.1,24.7" fill="#2d58e0"/><polygon points="-10.3,22.8 -6.1,25.4 -6.1,27.0 -10.3,24.4" fill="#2d58e0"/><polygon points="-5.1,26.1 -0.9,28.7 -0.9,30.2 -5.1,27.6" fill="#2d58e0"/><polygon points="-10.3,25.8 -6.1,28.4 -6.1,29.9 -10.3,27.3" fill="#2d58e0"/><polygon points="-5.1,29.0 -0.9,31.6 -0.9,33.2 -5.1,30.6" fill="#2d58e0"/><polygon points="-10.3,28.7 -6.1,31.3 -6.1,32.9 -10.3,30.3" fill="#2d58e0"/><polygon points="-5.1,32.0 -0.9,34.6 -0.9,36.1 -5.1,33.5" fill="#2d58e0"/><polygon points="-10.3,31.7 -6.1,34.3 -6.1,35.8 -10.3,33.2" fill="#2d58e0"/><polygon points="-5.1,34.9 -0.9,37.5 -0.9,39.1 -5.1,36.5" fill="#2d58e0"/></g>
<g transform="translate(1008.1 506.1)"><polygon points="-11.8,6.5 0.6,14.2 0.6,41.7 -11.8,34.0" fill="#dbe8fb"/><polygon points="0.6,14.2 12.4,7.7 12.4,35.2 0.6,41.7" fill="#a4c3f0"/><polygon points="0.0,0.0 12.4,7.7 0.6,14.2 -11.8,6.5" fill="#ebf3fe"/><polygon points="-10.3,11.0 -6.1,13.6 -6.1,15.2 -10.3,12.6" fill="#2d58e0"/><polygon points="-5.1,14.3 -0.9,16.9 -0.9,18.4 -5.1,15.8" fill="#2d58e0"/><polygon points="-10.3,14.0 -6.1,16.6 -6.1,18.1 -10.3,15.5" fill="#2d58e0"/><polygon points="-5.1,17.2 -0.9,19.8 -0.9,21.4 -5.1,18.8" fill="#2d58e0"/><polygon points="-10.3,16.9 -6.1,19.5 -6.1,21.1 -10.3,18.5" fill="#2d58e0"/><polygon points="-5.1,20.2 -0.9,22.8 -0.9,24.3 -5.1,21.7" fill="#2d58e0"/><polygon points="-10.3,19.9 -6.1,22.5 -6.1,24.0 -10.3,21.4" fill="#2d58e0"/><polygon points="-5.1,23.1 -0.9,25.7 -0.9,27.3 -5.1,24.7" fill="#2d58e0"/><polygon points="-10.3,22.8 -6.1,25.4 -6.1,27.0 -10.3,24.4" fill="#2d58e0"/><polygon points="-5.1,26.1 -0.9,28.7 -0.9,30.2 -5.1,27.6" fill="#2d58e0"/><polygon points="-10.3,25.8 -6.1,28.4 -6.1,29.9 -10.3,27.3" fill="#2d58e0"/><polygon points="-5.1,29.0 -0.9,31.6 -0.9,33.2 -5.1,30.6" fill="#2d58e0"/><polygon points="-10.3,28.7 -6.1,31.3 -6.1,32.9 -10.3,30.3" fill="#2d58e0"/><polygon points="-5.1,32.0 -0.9,34.6 -0.9,36.1 -5.1,33.5" fill="#2d58e0"/><polygon points="-10.3,31.7 -6.1,34.3 -6.1,35.8 -10.3,33.2" fill="#2d58e0"/><polygon points="-5.1,34.9 -0.9,37.5 -0.9,39.1 -5.1,36.5" fill="#2d58e0"/></g>
<g transform="translate(963.7 497.8)"><polygon points="-11.8,6.5 0.6,14.2 0.6,41.7 -11.8,34.0" fill="#dbe8fb"/><polygon points="0.6,14.2 12.4,7.7 12.4,35.2 0.6,41.7" fill="#a4c3f0"/><polygon points="0.0,0.0 12.4,7.7 0.6,14.2 -11.8,6.5" fill="#ebf3fe"/><polygon points="-10.3,11.0 -6.1,13.6 -6.1,15.2 -10.3,12.6" fill="#2d58e0"/><polygon points="-5.1,14.3 -0.9,16.9 -0.9,18.4 -5.1,15.8" fill="#2d58e0"/><polygon points="-10.3,14.0 -6.1,16.6 -6.1,18.1 -10.3,15.5" fill="#2d58e0"/><polygon points="-5.1,17.2 -0.9,19.8 -0.9,21.4 -5.1,18.8" fill="#2d58e0"/><polygon points="-10.3,16.9 -6.1,19.5 -6.1,21.1 -10.3,18.5" fill="#2d58e0"/><polygon points="-5.1,20.2 -0.9,22.8 -0.9,24.3 -5.1,21.7" fill="#2d58e0"/><polygon points="-10.3,19.9 -6.1,22.5 -6.1,24.0 -10.3,21.4" fill="#2d58e0"/><polygon points="-5.1,23.1 -0.9,25.7 -0.9,27.3 -5.1,24.7" fill="#2d58e0"/><polygon points="-10.3,22.8 -6.1,25.4 -6.1,27.0 -10.3,24.4" fill="#2d58e0"/><polygon points="-5.1,26.1 -0.9,28.7 -0.9,30.2 -5.1,27.6" fill="#2d58e0"/><polygon points="-10.3,25.8 -6.1,28.4 -6.1,29.9 -10.3,27.3" fill="#2d58e0"/><polygon points="-5.1,29.0 -0.9,31.6 -0.9,33.2 -5.1,30.6" fill="#2d58e0"/><polygon points="-10.3,28.7 -6.1,31.3 -6.1,32.9 -10.3,30.3" fill="#2d58e0"/><polygon points="-5.1,32.0 -0.9,34.6 -0.9,36.1 -5.1,33.5" fill="#2d58e0"/><polygon points="-10.3,31.7 -6.1,34.3 -6.1,35.8 -10.3,33.2" fill="#2d58e0"/><polygon points="-5.1,34.9 -0.9,37.5 -0.9,39.1 -5.1,36.5" fill="#2d58e0"/></g>
<g transform="translate(977.9 506.7)"><polygon points="-11.8,6.5 0.6,14.2 0.6,41.7 -11.8,34.0" fill="#dbe8fb"/><polygon points="0.6,14.2 12.4,7.7 12.4,35.2 0.6,41.7" fill="#a4c3f0"/><polygon points="0.0,0.0 12.4,7.7 0.6,14.2 -11.8,6.5" fill="#ebf3fe"/><polygon points="-10.3,11.0 -6.1,13.6 -6.1,15.2 -10.3,12.6" fill="#2d58e0"/><polygon points="-5.1,14.3 -0.9,16.9 -0.9,18.4 -5.1,15.8" fill="#2d58e0"/><polygon points="-10.3,14.0 -6.1,16.6 -6.1,18.1 -10.3,15.5" fill="#2d58e0"/><polygon points="-5.1,17.2 -0.9,19.8 -0.9,21.4 -5.1,18.8" fill="#2d58e0"/><polygon points="-10.3,16.9 -6.1,19.5 -6.1,21.1 -10.3,18.5" fill="#2d58e0"/><polygon points="-5.1,20.2 -0.9,22.8 -0.9,24.3 -5.1,21.7" fill="#2d58e0"/><polygon points="-10.3,19.9 -6.1,22.5 -6.1,24.0 -10.3,21.4" fill="#2d58e0"/><polygon points="-5.1,23.1 -0.9,25.7 -0.9,27.3 -5.1,24.7" fill="#2d58e0"/><polygon points="-10.3,22.8 -6.1,25.4 -6.1,27.0 -10.3,24.4" fill="#2d58e0"/><polygon points="-5.1,26.1 -0.9,28.7 -0.9,30.2 -5.1,27.6" fill="#2d58e0"/><polygon points="-10.3,25.8 -6.1,28.4 -6.1,29.9 -10.3,27.3" fill="#2d58e0"/><polygon points="-5.1,29.0 -0.9,31.6 -0.9,33.2 -5.1,30.6" fill="#2d58e0"/><polygon points="-10.3,28.7 -6.1,31.3 -6.1,32.9 -10.3,30.3" fill="#2d58e0"/><polygon points="-5.1,32.0 -0.9,34.6 -0.9,36.1 -5.1,33.5" fill="#2d58e0"/><polygon points="-10.3,31.7 -6.1,34.3 -6.1,35.8 -10.3,33.2" fill="#2d58e0"/><polygon points="-5.1,34.9 -0.9,37.5 -0.9,39.1 -5.1,36.5" fill="#2d58e0"/></g>
<g transform="translate(992.7 515.0)"><polygon points="-11.8,6.5 0.6,14.2 0.6,41.7 -11.8,34.0" fill="#dbe8fb"/><polygon points="0.6,14.2 12.4,7.7 12.4,35.2 0.6,41.7" fill="#a4c3f0"/><polygon points="0.0,0.0 12.4,7.7 0.6,14.2 -11.8,6.5" fill="#ebf3fe"/><polygon points="-10.3,11.0 -6.1,13.6 -6.1,15.2 -10.3,12.6" fill="#2d58e0"/><polygon points="-5.1,14.3 -0.9,16.9 -0.9,18.4 -5.1,15.8" fill="#2d58e0"/><polygon points="-10.3,14.0 -6.1,16.6 -6.1,18.1 -10.3,15.5" fill="#2d58e0"/><polygon points="-5.1,17.2 -0.9,19.8 -0.9,21.4 -5.1,18.8" fill="#2d58e0"/><polygon points="-10.3,16.9 -6.1,19.5 -6.1,21.1 -10.3,18.5" fill="#2d58e0"/><polygon points="-5.1,20.2 -0.9,22.8 -0.9,24.3 -5.1,21.7" fill="#2d58e0"/><polygon points="-10.3,19.9 -6.1,22.5 -6.1,24.0 -10.3,21.4" fill="#2d58e0"/><polygon points="-5.1,23.1 -0.9,25.7 -0.9,27.3 -5.1,24.7" fill="#2d58e0"/><polygon points="-10.3,22.8 -6.1,25.4 -6.1,27.0 -10.3,24.4" fill="#2d58e0"/><polygon points="-5.1,26.1 -0.9,28.7 -0.9,30.2 -5.1,27.6" fill="#2d58e0"/><polygon points="-10.3,25.8 -6.1,28.4 -6.1,29.9 -10.3,27.3" fill="#2d58e0"/><polygon points="-5.1,29.0 -0.9,31.6 -0.9,33.2 -5.1,30.6" fill="#2d58e0"/><polygon points="-10.3,28.7 -6.1,31.3 -6.1,32.9 -10.3,30.3" fill="#2d58e0"/><polygon points="-5.1,32.0 -0.9,34.6 -0.9,36.1 -5.1,33.5" fill="#2d58e0"/><polygon points="-10.3,31.7 -6.1,34.3 -6.1,35.8 -10.3,33.2" fill="#2d58e0"/><polygon points="-5.1,34.9 -0.9,37.5 -0.9,39.1 -5.1,36.5" fill="#2d58e0"/></g>
<g fill="#e4f2fd"><text x="956.6" y="567" font-size="8.2">数据中心</text><text x="989.40" y="567.00" font-size="7.38" xml:space="preserve">/</text><text x="991.45" y="567" font-size="8.2">私有云</text></g>
<g fill="#1f9fe2" transform="translate(0 0.9)"><circle cx="1117.5" cy="541" r="21.7"/><circle cx="1085" cy="545" r="13.5"/><circle cx="1081" cy="562" r="19.6"/><circle cx="1139.7" cy="562" r="19.6"/><rect x="1081" y="545" width="58.7" height="36.6"/></g>
<g fill="url(#saasg)"><circle cx="1117.5" cy="541" r="21.7"/><circle cx="1085" cy="545" r="13.5"/><circle cx="1081" cy="562" r="19.6"/><circle cx="1139.7" cy="562" r="19.6"/><rect x="1081" y="545" width="58.7" height="36.6"/></g>
<rect x="1093.4" y="534.2" width="9.6" height="9.6" rx="2.2" fill="#f3f8ff"/><path d="M1095.2 536.8 h6 M1095.2 541.4 h6 M1096.9 539.1 h2.6" stroke="#4f86ea" stroke-width="0.9" fill="none"/>
<g fill="#f0f8ff"><text x="1107.3" y="542.4" font-size="8.3">阿里云</text></g>
<path d="M1082.6 552.2 L1078 559.6 H1080.9 L1083.4 555.4 L1085.3 559.6 H1087.4 Z" fill="#f3f8ff"/>
<text x="1091" y="558.6" font-size="8.1" fill="#f0f8ff" textLength="56.6" lengthAdjust="spacingAndGlyphs">Microsoft Azure</text>
<g fill="#f0f8ff"><text x="1105.80" y="573.00" font-size="8.30" textLength="20.30" lengthAdjust="spacing" xml:space="preserve">SaaS</text><text x="1126.1" y="573" font-size="8.3">云</text></g>
<g fill="none" stroke="#ffffff" stroke-width="1.7"><rect x="444.6" y="158.6" width="19.2" height="18.6" rx="1.6"/><path d="M448.4 160.8 V171.3 M452 160.8 V171.3" stroke-width="1.8"/><rect x="455.6" y="161.2" width="5.8" height="5.2" stroke-width="1.4"/><path d="M464.4 161.8 h1.3 M464.4 164.4 h1.3 M464.4 167 h1.3" stroke-width="1.2"/></g><g fill="#ffffff"><circle cx="458.5" cy="163.8" r="1.2"/><circle cx="455.9" cy="169.9" r="1.25"/><circle cx="458.8" cy="169.9" r="1.25"/><circle cx="461.7" cy="169.9" r="1.25"/><circle cx="447.6" cy="174.4" r="1.1"/><rect x="450.2" y="173.1" width="11.8" height="2.6" rx="1.1"/></g>
<g fill="none" stroke="#ffffff" stroke-width="1.3"><rect x="446" y="265.6" width="16.8" height="3.1" rx="1.2"/><path d="M447.2 268.7 V273 M452 268.7 V273 M456.8 268.7 V273 M461.6 268.7 V273" stroke-width="1.1"/></g><g fill="#ffffff"><rect x="445.5" y="272.8" width="3.4" height="9.9" rx="0.7"/><rect x="450.3" y="272.8" width="3.4" height="9.9" rx="0.7"/><rect x="455.1" y="272.8" width="3.4" height="9.9" rx="0.7"/><rect x="459.9" y="272.8" width="3.4" height="9.9" rx="0.7"/></g>
<g fill="none" stroke="#ffffff" stroke-width="1.35" stroke-linejoin="round" stroke-linecap="round"><path d="M448.1 322.4 V331.4 M454.5 322.4 V326.6 M461 322.4 V331.4"/><path d="M448.1 331 L444.9 338.4 H464.2 L461 331"/><rect x="444.9" y="338.4" width="19.3" height="2.9" rx="0.8" stroke-width="1.2"/><path d="M451.6 336.2 a2.3 2.3 0 0 1 0.2 -4.5 a3.4 3.4 0 0 1 6.3 0 a2.3 2.3 0 0 1 0.4 4.5" stroke-width="1.05"/><path d="M453.6 333 h3.6 M453.4 334.9 h3.6" stroke-width="0.9"/></g>
<g fill="#ffffff"><rect x="446.8" y="380.5" width="14.9" height="3.3" rx="1"/><rect x="446.8" y="385.2" width="14.9" height="3.3" rx="1"/><rect x="446.8" y="389.9" width="14.9" height="3.3" rx="1"/><rect x="453.8" y="393" width="1.3" height="4"/><rect x="445" y="396.6" width="18.8" height="1.5" rx="0.7"/><circle cx="454.4" cy="397.4" r="1.9"/></g><g fill="#3866e6"><rect x="454.2" y="381.6" width="1.2" height="1.1"/><rect x="456.4" y="381.6" width="2.2" height="1.1"/><rect x="459.4" y="381.6" width="1.1" height="1.1"/><rect x="454.2" y="386.3" width="1.2" height="1.1"/><rect x="456.4" y="386.3" width="2.2" height="1.1"/><rect x="459.4" y="386.3" width="1.1" height="1.1"/><rect x="454.2" y="391.0" width="1.2" height="1.1"/><rect x="456.4" y="391.0" width="2.2" height="1.1"/><rect x="459.4" y="391.0" width="1.1" height="1.1"/></g>
<path d="M454.6 478.7 a7.3 7.3 0 0 1 7.3 7.3 c0 2.6 -1.2 4.4 -2.6 5.8 l0.4 3.6 l-5.6 2 l-0.9 -2.4 h-3 c-0.9 0 -1.3 -0.5 -1.3 -1.3 v-2 l-1.9 -0.6 c-0.4 -0.2 -0.5 -0.5 -0.3 -0.9 l1.3 -2.5 c-0.1 -5 2.6 -9 6.6 -9 Z" fill="#ffffff"/><circle cx="454.9" cy="485.8" r="5.5" fill="#3866e6"/><g fill="#ffffff"><circle cx="454.6" cy="482.9" r="1.35"/><circle cx="451.6" cy="488.3" r="1.35"/><circle cx="457.7" cy="488.3" r="1.35"/></g><path d="M454.6 482.9 L451.6 488.3 H457.7 Z" fill="none" stroke="#ffffff" stroke-width="0.8"/>
<g fill="none" stroke="#ffffff" stroke-width="1.3"><rect x="445.9" y="527.6" width="16" height="8" rx="2"/><rect x="448.8" y="530.1" width="10.2" height="3" rx="1.4" stroke-width="1.1"/><path d="M447.2 523.3 V527.2 M447.2 536 V539.9" stroke-width="1.2"/><path d="M449.8 523.3 V527.2 M449.8 536 V539.9" stroke-width="1.2"/><path d="M452.4 523.3 V527.2 M452.4 536 V539.9" stroke-width="1.2"/><path d="M455.0 523.3 V527.2 M455.0 536 V539.9" stroke-width="1.2"/><path d="M457.6 523.3 V527.2 M457.6 536 V539.9" stroke-width="1.2"/><path d="M460.2 523.3 V527.2 M460.2 536 V539.9" stroke-width="1.2"/></g>
<g fill="none" stroke="#ffffff" stroke-width="1.1"><circle cx="455.3" cy="573.6" r="5.7"/><ellipse cx="455.3" cy="573.6" rx="2.6" ry="5.7"/><path d="M449.6 573.6 H461 M450.5 570.7 H460.1 M450.5 576.5 H460.1 M455.3 567.9 V579.3"/><path d="M448.6 579.6 A8.7 8.7 0 0 1 450.8 566.1 M462 567.6 A8.7 8.7 0 0 1 459.8 581.1" stroke-width="1.3"/></g><path d="M452.6 564.6 l-0.9 3 l-2.4 -2 Z M458 582.6 l0.9 -3 l2.4 2 Z" fill="#ffffff"/>
<circle cx="1056.6" cy="49.2" r="15.1" fill="none" stroke="#bfb4cc" stroke-width="1.3" opacity="0.85"/><path d="M1042.4 53.5 A15.6 15.6 0 0 1 1066 36.4" fill="none" stroke="#8f7ba6" stroke-width="1.1" opacity="0.7"/><path d="M1071.6 45.6 A15.4 15.4 0 0 1 1060 64" fill="none" stroke="#8f7ba6" stroke-width="1" opacity="0.55" stroke-dasharray="2.2 1.2"/><circle cx="1057" cy="49.4" r="11.6" fill="url(#logog)"/><g clip-path="url(#logoclip)"><path d="M1048.2 40.4 Q1058 40.6 1068 43.6 L1055.2 61 L1050.6 59 L1060.4 46.8 L1048.8 44.8 Z" fill="#f7f3fa"/><path d="M1052.2 55.2 l4.6 1.9 M1053.6 53.2 l4.6 1.9 M1055 51.2 l4.6 1.9" stroke="#7a4a9e" stroke-width="0.7" fill="none"/></g>
<text x="1078.4" y="50.9" font-size="17.4" fill="#5b2c86" textLength="88.2" lengthAdjust="spacingAndGlyphs">7x Networks</text>
<text x="1078.6" y="60.0" font-size="6.1" fill="#afacb6" textLength="88" lengthAdjust="spacing" word-spacing="1.5">AI Based Network Solution</text>
</svg>
</div>
</body>
</html>
